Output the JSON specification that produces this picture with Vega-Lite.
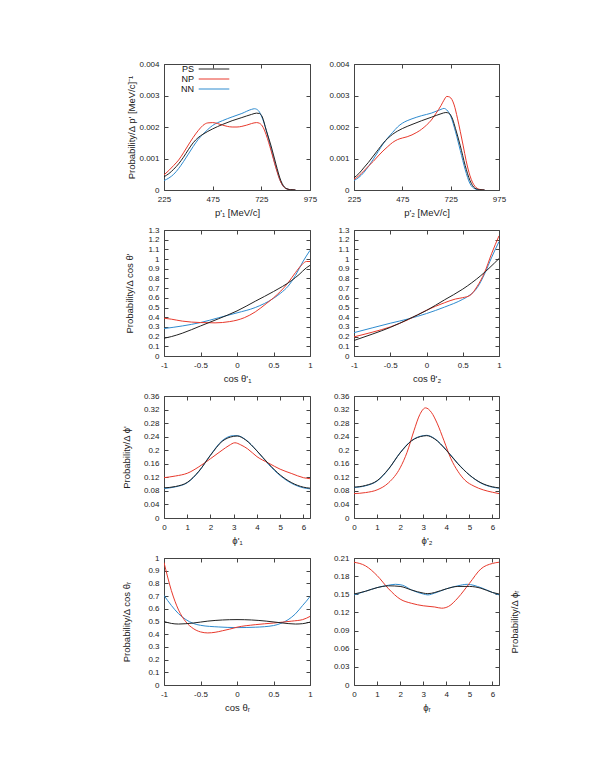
{
"$schema": "https://vega.github.io/schema/vega-lite/v6.json",
"background": "white",
"padding": {"left": 120, "top": 59, "right": 5, "bottom": 5},
"bounds": "flush",
"columns": 2,
"spacing": {"row": 40, "column": 44},
"config": {
 "font": "Liberation Sans",
 "view": {"stroke": "#444444", "strokeWidth": 1},
 "axis": {"grid": false, "domain": false, "tickSize": -4, "tickColor": "#444444", "labelPadding": 9, "labelFontSize": 8, "labelColor": "#222222", "titleFontSize": 9.5, "titleFontWeight": "normal", "titleColor": "#222222", "labelFlush": false, "labelOverlap": false},
 "axisTop": {"labels": false},
 "axisRight": {"labels": false},
 "line": {"strokeWidth": 1, "interpolate": "monotone"}
},
"datasets": {
"p1": [
{"s":"NN","x":225,"y":0.0003},{"s":"NN","x":250,"y":0.00038},{"s":"NN","x":275,"y":0.0005},{"s":"NN","x":300,"y":0.00068},{"s":"NN","x":325,"y":0.0009},{"s":"NN","x":350,"y":0.00114},{"s":"NN","x":375,"y":0.00138},{"s":"NN","x":400,"y":0.0016},{"s":"NN","x":425,"y":0.00177},{"s":"NN","x":450,"y":0.00192},{"s":"NN","x":475,"y":0.00205},{"s":"NN","x":525,"y":0.0022},{"s":"NN","x":575,"y":0.00232},{"s":"NN","x":625,"y":0.00243},{"s":"NN","x":675,"y":0.00256},{"s":"NN","x":690,"y":0.00258},{"s":"NN","x":710,"y":0.00252},{"s":"NN","x":730,"y":0.00228},{"s":"NN","x":750,"y":0.0019},{"s":"NN","x":775,"y":0.0013},{"s":"NN","x":800,"y":0.00072},{"s":"NN","x":825,"y":0.00025},{"s":"NN","x":850,"y":0.00005},{"s":"NN","x":875,"y":0.00001},{"s":"NN","x":900,"y":0},
{"s":"NP","x":225,"y":0.00048},{"s":"NP","x":250,"y":0.00062},{"s":"NP","x":275,"y":0.00078},{"s":"NP","x":300,"y":0.00095},{"s":"NP","x":325,"y":0.00118},{"s":"NP","x":350,"y":0.00143},{"s":"NP","x":375,"y":0.00167},{"s":"NP","x":400,"y":0.00188},{"s":"NP","x":425,"y":0.00205},{"s":"NP","x":450,"y":0.00213},{"s":"NP","x":475,"y":0.00214},{"s":"NP","x":500,"y":0.00211},{"s":"NP","x":525,"y":0.00206},{"s":"NP","x":550,"y":0.00202},{"s":"NP","x":575,"y":0.002},{"s":"NP","x":600,"y":0.002},{"s":"NP","x":625,"y":0.00202},{"s":"NP","x":650,"y":0.00206},{"s":"NP","x":675,"y":0.00211},{"s":"NP","x":700,"y":0.00214},{"s":"NP","x":715,"y":0.00212},{"s":"NP","x":735,"y":0.00198},{"s":"NP","x":750,"y":0.00175},{"s":"NP","x":775,"y":0.00125},{"s":"NP","x":800,"y":0.0007},{"s":"NP","x":825,"y":0.00025},{"s":"NP","x":850,"y":0.00005},{"s":"NP","x":875,"y":0.00001},{"s":"NP","x":900,"y":0},
{"s":"PS","x":225,"y":0.00042},{"s":"PS","x":250,"y":0.00052},{"s":"PS","x":275,"y":0.00066},{"s":"PS","x":300,"y":0.00083},{"s":"PS","x":325,"y":0.00104},{"s":"PS","x":350,"y":0.00128},{"s":"PS","x":375,"y":0.0015},{"s":"PS","x":400,"y":0.00166},{"s":"PS","x":425,"y":0.00177},{"s":"PS","x":450,"y":0.00186},{"s":"PS","x":475,"y":0.00194},{"s":"PS","x":525,"y":0.00208},{"s":"PS","x":575,"y":0.0022},{"s":"PS","x":625,"y":0.0023},{"s":"PS","x":675,"y":0.0024},{"s":"PS","x":700,"y":0.00244},{"s":"PS","x":715,"y":0.00243},{"s":"PS","x":730,"y":0.00232},{"s":"PS","x":750,"y":0.0019},{"s":"PS","x":775,"y":0.0014},{"s":"PS","x":800,"y":0.00082},{"s":"PS","x":825,"y":0.0003},{"s":"PS","x":850,"y":0.00006},{"s":"PS","x":875,"y":0.00001},{"s":"PS","x":900,"y":0}
],
"p2": [
{"s":"NN","x":225,"y":0.0003},{"s":"NN","x":250,"y":0.0004},{"s":"NN","x":275,"y":0.00055},{"s":"NN","x":300,"y":0.00075},{"s":"NN","x":325,"y":0.00098},{"s":"NN","x":350,"y":0.00122},{"s":"NN","x":375,"y":0.00146},{"s":"NN","x":400,"y":0.00166},{"s":"NN","x":425,"y":0.00183},{"s":"NN","x":450,"y":0.002},{"s":"NN","x":475,"y":0.00212},{"s":"NN","x":500,"y":0.0022},{"s":"NN","x":525,"y":0.00226},{"s":"NN","x":575,"y":0.00236},{"s":"NN","x":625,"y":0.00244},{"s":"NN","x":675,"y":0.00256},{"s":"NN","x":690,"y":0.00259},{"s":"NN","x":705,"y":0.00254},{"s":"NN","x":725,"y":0.00235},{"s":"NN","x":750,"y":0.00185},{"s":"NN","x":775,"y":0.00125},{"s":"NN","x":800,"y":0.00065},{"s":"NN","x":825,"y":0.0002},{"s":"NN","x":850,"y":0.00004},{"s":"NN","x":875,"y":0},{"s":"NN","x":900,"y":0},
{"s":"NP","x":225,"y":0.00034},{"s":"NP","x":250,"y":0.00045},{"s":"NP","x":275,"y":0.0006},{"s":"NP","x":300,"y":0.00076},{"s":"NP","x":325,"y":0.00091},{"s":"NP","x":350,"y":0.00108},{"s":"NP","x":375,"y":0.00124},{"s":"NP","x":400,"y":0.00138},{"s":"NP","x":425,"y":0.00151},{"s":"NP","x":450,"y":0.0016},{"s":"NP","x":475,"y":0.00165},{"s":"NP","x":500,"y":0.00169},{"s":"NP","x":525,"y":0.00175},{"s":"NP","x":550,"y":0.00183},{"s":"NP","x":575,"y":0.00193},{"s":"NP","x":600,"y":0.00206},{"s":"NP","x":625,"y":0.00222},{"s":"NP","x":650,"y":0.00244},{"s":"NP","x":675,"y":0.00268},{"s":"NP","x":690,"y":0.00285},{"s":"NP","x":705,"y":0.00297},{"s":"NP","x":720,"y":0.00295},{"s":"NP","x":743,"y":0.0027},{"s":"NP","x":760,"y":0.00228},{"s":"NP","x":775,"y":0.00185},{"s":"NP","x":790,"y":0.0014},{"s":"NP","x":805,"y":0.00093},{"s":"NP","x":825,"y":0.00045},{"s":"NP","x":850,"y":0.00012},{"s":"NP","x":875,"y":0.00002},{"s":"NP","x":900,"y":0},
{"s":"PS","x":225,"y":0.00039},{"s":"PS","x":250,"y":0.00052},{"s":"PS","x":275,"y":0.0007},{"s":"PS","x":300,"y":0.00088},{"s":"PS","x":325,"y":0.00108},{"s":"PS","x":350,"y":0.00128},{"s":"PS","x":375,"y":0.00148},{"s":"PS","x":400,"y":0.00164},{"s":"PS","x":425,"y":0.00177},{"s":"PS","x":450,"y":0.00187},{"s":"PS","x":475,"y":0.00195},{"s":"PS","x":525,"y":0.00208},{"s":"PS","x":575,"y":0.0022},{"s":"PS","x":625,"y":0.00231},{"s":"PS","x":675,"y":0.00242},{"s":"PS","x":700,"y":0.00246},{"s":"PS","x":715,"y":0.00244},{"s":"PS","x":735,"y":0.00225},{"s":"PS","x":750,"y":0.00195},{"s":"PS","x":775,"y":0.0014},{"s":"PS","x":800,"y":0.00078},{"s":"PS","x":825,"y":0.0003},{"s":"PS","x":850,"y":0.00006},{"s":"PS","x":875,"y":0.00001},{"s":"PS","x":900,"y":0}
],
"p3": [
{"s":"NN","x":-1,"y":0.283},{"s":"NN","x":-0.75,"y":0.31},{"s":"NN","x":-0.5,"y":0.345},{"s":"NN","x":-0.25,"y":0.395},{"s":"NN","x":0,"y":0.445},{"s":"NN","x":0.25,"y":0.5},{"s":"NN","x":0.5,"y":0.595},{"s":"NN","x":0.6,"y":0.65},{"s":"NN","x":0.7,"y":0.72},{"s":"NN","x":0.8,"y":0.83},{"s":"NN","x":0.9,"y":0.97},{"s":"NN","x":1,"y":1.09},
{"s":"NP","x":-1,"y":0.39},{"s":"NP","x":-0.9,"y":0.38},{"s":"NP","x":-0.75,"y":0.36},{"s":"NP","x":-0.5,"y":0.345},{"s":"NP","x":-0.3,"y":0.342},{"s":"NP","x":-0.1,"y":0.355},{"s":"NP","x":0,"y":0.37},{"s":"NP","x":0.1,"y":0.395},{"s":"NP","x":0.25,"y":0.455},{"s":"NP","x":0.4,"y":0.54},{"s":"NP","x":0.5,"y":0.6},{"s":"NP","x":0.6,"y":0.67},{"s":"NP","x":0.7,"y":0.755},{"s":"NP","x":0.8,"y":0.86},{"s":"NP","x":0.9,"y":0.95},{"s":"NP","x":0.95,"y":0.975},{"s":"NP","x":1,"y":0.975},
{"s":"PS","x":-1,"y":0.183},{"s":"PS","x":-0.9,"y":0.2},{"s":"PS","x":-0.75,"y":0.235},{"s":"PS","x":-0.5,"y":0.31},{"s":"PS","x":-0.25,"y":0.385},{"s":"PS","x":0,"y":0.465},{"s":"PS","x":0.25,"y":0.565},{"s":"PS","x":0.5,"y":0.665},{"s":"PS","x":0.75,"y":0.78},{"s":"PS","x":0.85,"y":0.84},{"s":"PS","x":0.95,"y":0.91},{"s":"PS","x":1,"y":0.935}
],
"p4": [
{"s":"NN","x":-1,"y":0.241},{"s":"NN","x":-0.75,"y":0.29},{"s":"NN","x":-0.5,"y":0.338},{"s":"NN","x":-0.25,"y":0.383},{"s":"NN","x":0,"y":0.438},{"s":"NN","x":0.25,"y":0.505},{"s":"NN","x":0.5,"y":0.585},{"s":"NN","x":0.6,"y":0.63},{"s":"NN","x":0.7,"y":0.705},{"s":"NN","x":0.8,"y":0.845},{"s":"NN","x":0.9,"y":1.02},{"s":"NN","x":1,"y":1.18},
{"s":"NP","x":-1,"y":0.197},{"s":"NP","x":-0.75,"y":0.245},{"s":"NP","x":-0.5,"y":0.3},{"s":"NP","x":-0.25,"y":0.376},{"s":"NP","x":0,"y":0.472},{"s":"NP","x":0.25,"y":0.55},{"s":"NP","x":0.4,"y":0.588},{"s":"NP","x":0.5,"y":0.602},{"s":"NP","x":0.6,"y":0.625},{"s":"NP","x":0.7,"y":0.72},{"s":"NP","x":0.8,"y":0.86},{"s":"NP","x":0.9,"y":1.06},{"s":"NP","x":1,"y":1.24},
{"s":"PS","x":-1,"y":0.16},{"s":"PS","x":-0.75,"y":0.225},{"s":"PS","x":-0.5,"y":0.295},{"s":"PS","x":-0.25,"y":0.38},{"s":"PS","x":0,"y":0.47},{"s":"PS","x":0.25,"y":0.58},{"s":"PS","x":0.5,"y":0.69},{"s":"PS","x":0.75,"y":0.83},{"s":"PS","x":1,"y":1.005}
],
"p5": [
{"s":"NN","x":0,"y":0.087},{"s":"NN","x":0.5,"y":0.092},{"s":"NN","x":1,"y":0.104},{"s":"NN","x":1.5,"y":0.137},{"s":"NN","x":2,"y":0.186},{"s":"NN","x":2.5,"y":0.228},{"s":"NN","x":3,"y":0.243},{"s":"NN","x":3.15,"y":0.243},{"s":"NN","x":3.5,"y":0.232},{"s":"NN","x":4,"y":0.198},{"s":"NN","x":4.5,"y":0.158},{"s":"NN","x":5,"y":0.125},{"s":"NN","x":5.5,"y":0.102},{"s":"NN","x":6,"y":0.089},{"s":"NN","x":6.2832,"y":0.086},
{"s":"NP","x":0,"y":0.119},{"s":"NP","x":0.5,"y":0.124},{"s":"NP","x":1,"y":0.132},{"s":"NP","x":1.5,"y":0.151},{"s":"NP","x":2,"y":0.175},{"s":"NP","x":2.5,"y":0.2},{"s":"NP","x":2.8,"y":0.214},{"s":"NP","x":3.05,"y":0.222},{"s":"NP","x":3.3,"y":0.216},{"s":"NP","x":3.6,"y":0.204},{"s":"NP","x":4,"y":0.181},{"s":"NP","x":4.5,"y":0.162},{"s":"NP","x":5,"y":0.144},{"s":"NP","x":5.5,"y":0.131},{"s":"NP","x":6,"y":0.119},{"s":"NP","x":6.2832,"y":0.116},
{"s":"PS","x":0,"y":0.089},{"s":"PS","x":0.5,"y":0.093},{"s":"PS","x":1,"y":0.105},{"s":"PS","x":1.5,"y":0.138},{"s":"PS","x":2,"y":0.185},{"s":"PS","x":2.5,"y":0.226},{"s":"PS","x":3,"y":0.241},{"s":"PS","x":3.15,"y":0.242},{"s":"PS","x":3.5,"y":0.231},{"s":"PS","x":4,"y":0.198},{"s":"PS","x":4.5,"y":0.16},{"s":"PS","x":5,"y":0.127},{"s":"PS","x":5.5,"y":0.104},{"s":"PS","x":6,"y":0.091},{"s":"PS","x":6.2832,"y":0.088}
],
"p6": [
{"s":"NN","x":0,"y":0.09},{"s":"NN","x":0.5,"y":0.095},{"s":"NN","x":1,"y":0.109},{"s":"NN","x":1.5,"y":0.144},{"s":"NN","x":2,"y":0.193},{"s":"NN","x":2.5,"y":0.229},{"s":"NN","x":3,"y":0.243},{"s":"NN","x":3.15,"y":0.244},{"s":"NN","x":3.5,"y":0.234},{"s":"NN","x":4,"y":0.201},{"s":"NN","x":4.5,"y":0.161},{"s":"NN","x":5,"y":0.127},{"s":"NN","x":5.5,"y":0.103},{"s":"NN","x":6,"y":0.091},{"s":"NN","x":6.2832,"y":0.088},
{"s":"NP","x":0,"y":0.072},{"s":"NP","x":0.5,"y":0.075},{"s":"NP","x":1,"y":0.083},{"s":"NP","x":1.5,"y":0.104},{"s":"NP","x":2,"y":0.148},{"s":"NP","x":2.3,"y":0.194},{"s":"NP","x":2.6,"y":0.258},{"s":"NP","x":2.85,"y":0.305},{"s":"NP","x":3.1,"y":0.325},{"s":"NP","x":3.35,"y":0.312},{"s":"NP","x":3.6,"y":0.28},{"s":"NP","x":3.9,"y":0.228},{"s":"NP","x":4.2,"y":0.175},{"s":"NP","x":4.5,"y":0.138},{"s":"NP","x":4.8,"y":0.112},{"s":"NP","x":5.2,"y":0.094},{"s":"NP","x":5.6,"y":0.083},{"s":"NP","x":6,"y":0.076},{"s":"NP","x":6.2832,"y":0.072},
{"s":"PS","x":0,"y":0.091},{"s":"PS","x":0.5,"y":0.096},{"s":"PS","x":1,"y":0.11},{"s":"PS","x":1.5,"y":0.145},{"s":"PS","x":2,"y":0.192},{"s":"PS","x":2.5,"y":0.228},{"s":"PS","x":3,"y":0.242},{"s":"PS","x":3.15,"y":0.243},{"s":"PS","x":3.5,"y":0.233},{"s":"PS","x":4,"y":0.2},{"s":"PS","x":4.5,"y":0.16},{"s":"PS","x":5,"y":0.127},{"s":"PS","x":5.5,"y":0.104},{"s":"PS","x":6,"y":0.092},{"s":"PS","x":6.2832,"y":0.089}
],
"p7": [
{"s":"NN","x":-1,"y":0.705},{"s":"NN","x":-0.95,"y":0.665},{"s":"NN","x":-0.9,"y":0.627},{"s":"NN","x":-0.8,"y":0.561},{"s":"NN","x":-0.7,"y":0.515},{"s":"NN","x":-0.6,"y":0.485},{"s":"NN","x":-0.5,"y":0.47},{"s":"NN","x":-0.25,"y":0.457},{"s":"NN","x":0,"y":0.452},{"s":"NN","x":0.25,"y":0.455},{"s":"NN","x":0.5,"y":0.468},{"s":"NN","x":0.6,"y":0.485},{"s":"NN","x":0.7,"y":0.514},{"s":"NN","x":0.8,"y":0.56},{"s":"NN","x":0.9,"y":0.627},{"s":"NN","x":0.95,"y":0.66},{"s":"NN","x":1,"y":0.697},
{"s":"NP","x":-1,"y":0.965},{"s":"NP","x":-0.95,"y":0.85},{"s":"NP","x":-0.9,"y":0.745},{"s":"NP","x":-0.85,"y":0.66},{"s":"NP","x":-0.8,"y":0.59},{"s":"NP","x":-0.7,"y":0.497},{"s":"NP","x":-0.6,"y":0.445},{"s":"NP","x":-0.5,"y":0.418},{"s":"NP","x":-0.4,"y":0.41},{"s":"NP","x":-0.3,"y":0.415},{"s":"NP","x":-0.2,"y":0.427},{"s":"NP","x":-0.1,"y":0.44},{"s":"NP","x":0,"y":0.455},{"s":"NP","x":0.25,"y":0.475},{"s":"NP","x":0.5,"y":0.488},{"s":"NP","x":0.75,"y":0.503},{"s":"NP","x":0.9,"y":0.515},{"s":"NP","x":1,"y":0.54},
{"s":"PS","x":-1,"y":0.5},{"s":"PS","x":-0.9,"y":0.485},{"s":"PS","x":-0.8,"y":0.48},{"s":"PS","x":-0.6,"y":0.488},{"s":"PS","x":-0.4,"y":0.503},{"s":"PS","x":-0.2,"y":0.512},{"s":"PS","x":0,"y":0.515},{"s":"PS","x":0.2,"y":0.512},{"s":"PS","x":0.4,"y":0.503},{"s":"PS","x":0.6,"y":0.49},{"s":"PS","x":0.8,"y":0.48},{"s":"PS","x":0.9,"y":0.483},{"s":"PS","x":1,"y":0.495}
],
"p8": [
{"s":"NN","x":0,"y":0.149},{"s":"NN","x":0.5,"y":0.155},{"s":"NN","x":1,"y":0.161},{"s":"NN","x":1.5,"y":0.165},{"s":"NN","x":1.8,"y":0.1665},{"s":"NN","x":2.1,"y":0.165},{"s":"NN","x":2.5,"y":0.157},{"s":"NN","x":3,"y":0.1505},{"s":"NN","x":3.2,"y":0.149},{"s":"NN","x":3.5,"y":0.152},{"s":"NN","x":4,"y":0.159},{"s":"NN","x":4.5,"y":0.164},{"s":"NN","x":4.9,"y":0.1665},{"s":"NN","x":5.5,"y":0.161},{"s":"NN","x":6,"y":0.153},{"s":"NN","x":6.2832,"y":0.149},
{"s":"NP","x":0,"y":0.203},{"s":"NP","x":0.5,"y":0.197},{"s":"NP","x":1,"y":0.181},{"s":"NP","x":1.5,"y":0.159},{"s":"NP","x":2,"y":0.142},{"s":"NP","x":2.5,"y":0.135},{"s":"NP","x":3,"y":0.131},{"s":"NP","x":3.5,"y":0.129},{"s":"NP","x":3.8,"y":0.127},{"s":"NP","x":4.1,"y":0.13},{"s":"NP","x":4.5,"y":0.144},{"s":"NP","x":5,"y":0.168},{"s":"NP","x":5.5,"y":0.192},{"s":"NP","x":6,"y":0.201},{"s":"NP","x":6.2832,"y":0.203},
{"s":"PS","x":0,"y":0.1505},{"s":"PS","x":0.5,"y":0.155},{"s":"PS","x":1,"y":0.161},{"s":"PS","x":1.5,"y":0.164},{"s":"PS","x":2,"y":0.163},{"s":"PS","x":2.5,"y":0.157},{"s":"PS","x":3,"y":0.152},{"s":"PS","x":3.2,"y":0.151},{"s":"PS","x":3.5,"y":0.153},{"s":"PS","x":4,"y":0.159},{"s":"PS","x":4.5,"y":0.163},{"s":"PS","x":5,"y":0.163},{"s":"PS","x":5.5,"y":0.16},{"s":"PS","x":6,"y":0.153},{"s":"PS","x":6.2832,"y":0.1505}
]
},
"concat": [
 {"width": 146, "height": 126, "data": {"name": "p1"},
  "layer": [
   {"mark": {"type": "line", "clip": true}, "encoding": {
     "x": {"field": "x", "type": "quantitative", "scale": {"domain": [225, 975], "nice": false, "zero": false}, "axis": {"values": [225, 475, 725, 975], "labelExpr": "replace(format(datum.value, '~g'), '\u2212', '-')", "title": "p'₁ [MeV/c]", "titleY": 22, "titleBaseline": "middle"}},
     "y": {"field": "y", "type": "quantitative", "scale": {"domain": [0, 0.004], "nice": false}, "axis": {"values": [0, 0.001, 0.002, 0.003, 0.004], "labelExpr": "replace(format(datum.value, '~g'), '\u2212', '-')", "title": "Probability/Δ p' [MeV/c]⁻¹", "titleX": -33, "titleBaseline": "middle"}},
     "color": {"field": "s", "type": "nominal", "scale": {"domain": ["PS", "NP", "NN"], "range": ["#222222", "#e8392c", "#2e8bcf"]},
       "legend": {"orient": "none", "legendX": 45, "legendY": 0, "title": null, "symbolType": "M-3.4,0H3.4", "symbolSize": 81, "symbolStrokeWidth": 1.2, "symbolOpacity": 1, "labelFontSize": 9, "labelColor": "#111111", "labelAlign": "right", "labelOffset": -25, "rowPadding": 0, "padding": 0}}
   }},
   {"mark": {"type": "line", "opacity": 0}, "encoding": {
     "x": {"field": "x", "type": "quantitative", "axis": {"orient": "top", "values": [225, 475, 725, 975], "title": null}},
     "y": {"field": "y", "type": "quantitative", "axis": {"orient": "right", "values": [0, 0.001, 0.002, 0.003, 0.004], "title": null}}
   }}
  ],
  "resolve": {"axis": {"x": "independent", "y": "independent"}}
 },
 {"width": 145, "height": 126, "data": {"name": "p2"},
  "layer": [
   {"mark": {"type": "line", "clip": true}, "encoding": {
     "x": {"field": "x", "type": "quantitative", "scale": {"domain": [225, 975], "nice": false, "zero": false}, "axis": {"values": [225, 475, 725, 975], "labelExpr": "replace(format(datum.value, '~g'), '\u2212', '-')", "title": "p'₂ [MeV/c]", "titleY": 22, "titleBaseline": "middle"}},
     "y": {"field": "y", "type": "quantitative", "scale": {"domain": [0, 0.004], "nice": false}, "axis": {"values": [0, 0.001, 0.002, 0.003, 0.004], "labelExpr": "replace(format(datum.value, '~g'), '\u2212', '-')", "title": null}},
     "color": {"field": "s", "type": "nominal"}
   }},
   {"mark": {"type": "line", "opacity": 0}, "encoding": {
     "x": {"field": "x", "type": "quantitative", "axis": {"orient": "top", "values": [225, 475, 725, 975], "title": null}},
     "y": {"field": "y", "type": "quantitative", "axis": {"orient": "right", "values": [0, 0.001, 0.002, 0.003, 0.004], "title": null}}
   }}
  ],
  "resolve": {"axis": {"x": "independent", "y": "independent"}}
 },
 {"width": 146, "height": 126, "data": {"name": "p3"},
  "layer": [
   {"mark": {"type": "line", "clip": true}, "encoding": {
     "x": {"field": "x", "type": "quantitative", "scale": {"domain": [-1, 1], "nice": false}, "axis": {"values": [-1, -0.5, 0, 0.5, 1], "labelExpr": "replace(format(datum.value, '~g'), '\u2212', '-')", "title": "cos θ'₁", "titleY": 22, "titleBaseline": "middle"}},
     "y": {"field": "y", "type": "quantitative", "scale": {"domain": [0, 1.3], "nice": false}, "axis": {"values": [0, 0.1, 0.2, 0.3, 0.4, 0.5, 0.6, 0.7, 0.8, 0.9, 1, 1.1, 1.2, 1.3], "labelExpr": "replace(format(datum.value, '~g'), '\u2212', '-')", "title": "Probability/Δ cos θ'", "titleX": -35, "titleBaseline": "middle"}},
     "color": {"field": "s", "type": "nominal"}
   }},
   {"mark": {"type": "line", "opacity": 0}, "encoding": {
     "x": {"field": "x", "type": "quantitative", "axis": {"orient": "top", "values": [-1, -0.5, 0, 0.5, 1], "title": null}},
     "y": {"field": "y", "type": "quantitative", "axis": {"orient": "right", "values": [0, 0.1, 0.2, 0.3, 0.4, 0.5, 0.6, 0.7, 0.8, 0.9, 1, 1.1, 1.2, 1.3], "title": null}}
   }}
  ],
  "resolve": {"axis": {"x": "independent", "y": "independent"}}
 },
 {"width": 145, "height": 126, "data": {"name": "p4"},
  "layer": [
   {"mark": {"type": "line", "clip": true}, "encoding": {
     "x": {"field": "x", "type": "quantitative", "scale": {"domain": [-1, 1], "nice": false}, "axis": {"values": [-1, -0.5, 0, 0.5, 1], "labelExpr": "replace(format(datum.value, '~g'), '\u2212', '-')", "title": "cos θ'₂", "titleY": 22, "titleBaseline": "middle"}},
     "y": {"field": "y", "type": "quantitative", "scale": {"domain": [0, 1.3], "nice": false}, "axis": {"values": [0, 0.1, 0.2, 0.3, 0.4, 0.5, 0.6, 0.7, 0.8, 0.9, 1, 1.1, 1.2, 1.3], "labelExpr": "replace(format(datum.value, '~g'), '\u2212', '-')", "title": null}},
     "color": {"field": "s", "type": "nominal"}
   }},
   {"mark": {"type": "line", "opacity": 0}, "encoding": {
     "x": {"field": "x", "type": "quantitative", "axis": {"orient": "top", "values": [-1, -0.5, 0, 0.5, 1], "title": null}},
     "y": {"field": "y", "type": "quantitative", "axis": {"orient": "right", "values": [0, 0.1, 0.2, 0.3, 0.4, 0.5, 0.6, 0.7, 0.8, 0.9, 1, 1.1, 1.2, 1.3], "title": null}}
   }}
  ],
  "resolve": {"axis": {"x": "independent", "y": "independent"}}
 },
 {"width": 146, "height": 122, "data": {"name": "p5"},
  "layer": [
   {"mark": {"type": "line", "clip": true}, "encoding": {
     "x": {"field": "x", "type": "quantitative", "scale": {"domain": [0, 6.2832], "nice": false}, "axis": {"values": [0, 1, 2, 3, 4, 5, 6], "labelExpr": "replace(format(datum.value, '~g'), '\u2212', '-')", "title": "ϕ'₁", "titleY": 22, "titleBaseline": "middle"}},
     "y": {"field": "y", "type": "quantitative", "scale": {"domain": [0, 0.36], "nice": false}, "axis": {"values": [0, 0.04, 0.08, 0.12, 0.16, 0.2, 0.24, 0.28, 0.32, 0.36], "labelExpr": "replace(format(datum.value, '~g'), '\u2212', '-')", "title": "Probability/Δ ϕ'", "titleX": -38, "titleBaseline": "middle"}},
     "color": {"field": "s", "type": "nominal"}
   }},
   {"mark": {"type": "line", "opacity": 0}, "encoding": {
     "x": {"field": "x", "type": "quantitative", "axis": {"orient": "top", "values": [0, 1, 2, 3, 4, 5, 6], "title": null}},
     "y": {"field": "y", "type": "quantitative", "axis": {"orient": "right", "values": [0, 0.04, 0.08, 0.12, 0.16, 0.2, 0.24, 0.28, 0.32, 0.36], "title": null}}
   }}
  ],
  "resolve": {"axis": {"x": "independent", "y": "independent"}}
 },
 {"width": 145, "height": 122, "data": {"name": "p6"},
  "layer": [
   {"mark": {"type": "line", "clip": true}, "encoding": {
     "x": {"field": "x", "type": "quantitative", "scale": {"domain": [0, 6.2832], "nice": false}, "axis": {"values": [0, 1, 2, 3, 4, 5, 6], "labelExpr": "replace(format(datum.value, '~g'), '\u2212', '-')", "title": "ϕ'₂", "titleY": 22, "titleBaseline": "middle"}},
     "y": {"field": "y", "type": "quantitative", "scale": {"domain": [0, 0.36], "nice": false}, "axis": {"values": [0, 0.04, 0.08, 0.12, 0.16, 0.2, 0.24, 0.28, 0.32, 0.36], "labelExpr": "replace(format(datum.value, '~g'), '\u2212', '-')", "title": null}},
     "color": {"field": "s", "type": "nominal"}
   }},
   {"mark": {"type": "line", "opacity": 0}, "encoding": {
     "x": {"field": "x", "type": "quantitative", "axis": {"orient": "top", "values": [0, 1, 2, 3, 4, 5, 6], "title": null}},
     "y": {"field": "y", "type": "quantitative", "axis": {"orient": "right", "values": [0, 0.04, 0.08, 0.12, 0.16, 0.2, 0.24, 0.28, 0.32, 0.36], "title": null}}
   }}
  ],
  "resolve": {"axis": {"x": "independent", "y": "independent"}}
 },
 {"width": 146, "height": 127, "data": {"name": "p7"},
  "layer": [
   {"mark": {"type": "line", "clip": true}, "encoding": {
     "x": {"field": "x", "type": "quantitative", "scale": {"domain": [-1, 1], "nice": false}, "axis": {"values": [-1, -0.5, 0, 0.5, 1], "labelExpr": "replace(format(datum.value, '~g'), '\u2212', '-')", "title": "cos θᵣ", "titleY": 22, "titleBaseline": "middle"}},
     "y": {"field": "y", "type": "quantitative", "scale": {"domain": [0, 1], "nice": false}, "axis": {"values": [0, 0.1, 0.2, 0.3, 0.4, 0.5, 0.6, 0.7, 0.8, 0.9, 1], "labelExpr": "replace(format(datum.value, '~g'), '\u2212', '-')", "title": "Probability/Δ cos θᵣ", "titleX": -38, "titleBaseline": "middle"}},
     "color": {"field": "s", "type": "nominal"}
   }},
   {"mark": {"type": "line", "opacity": 0}, "encoding": {
     "x": {"field": "x", "type": "quantitative", "axis": {"orient": "top", "values": [-1, -0.5, 0, 0.5, 1], "title": null}},
     "y": {"field": "y", "type": "quantitative", "axis": {"orient": "right", "values": [0, 0.1, 0.2, 0.3, 0.4, 0.5, 0.6, 0.7, 0.8, 0.9, 1], "title": null}}
   }}
  ],
  "resolve": {"axis": {"x": "independent", "y": "independent"}}
 },
 {"width": 145, "height": 127, "data": {"name": "p8"},
  "layer": [
   {"mark": {"type": "line", "clip": true}, "encoding": {
     "x": {"field": "x", "type": "quantitative", "scale": {"domain": [0, 6.2832], "nice": false}, "axis": {"values": [0, 1, 2, 3, 4, 5, 6], "labelExpr": "replace(format(datum.value, '~g'), '\u2212', '-')", "title": "ϕᵣ", "titleY": 22, "titleBaseline": "middle"}},
     "y": {"field": "y", "type": "quantitative", "scale": {"domain": [0, 0.21], "nice": false}, "axis": {"values": [0, 0.03, 0.06, 0.09, 0.12, 0.15, 0.18, 0.21], "labelExpr": "replace(format(datum.value, '~g'), '\u2212', '-')", "title": null}},
     "color": {"field": "s", "type": "nominal"}
   }},
   {"mark": {"type": "line", "opacity": 0}, "encoding": {
     "x": {"field": "x", "type": "quantitative", "axis": {"orient": "top", "values": [0, 1, 2, 3, 4, 5, 6], "title": null}},
     "y": {"field": "y", "type": "quantitative", "axis": {"orient": "right", "values": [0, 0.03, 0.06, 0.09, 0.12, 0.15, 0.18, 0.21], "title": "Probability/Δ ϕᵣ", "titleAngle": -90, "titleX": 15, "titleBaseline": "middle"}}
   }}
  ],
  "resolve": {"axis": {"x": "independent", "y": "independent"}}
 }
]
}
